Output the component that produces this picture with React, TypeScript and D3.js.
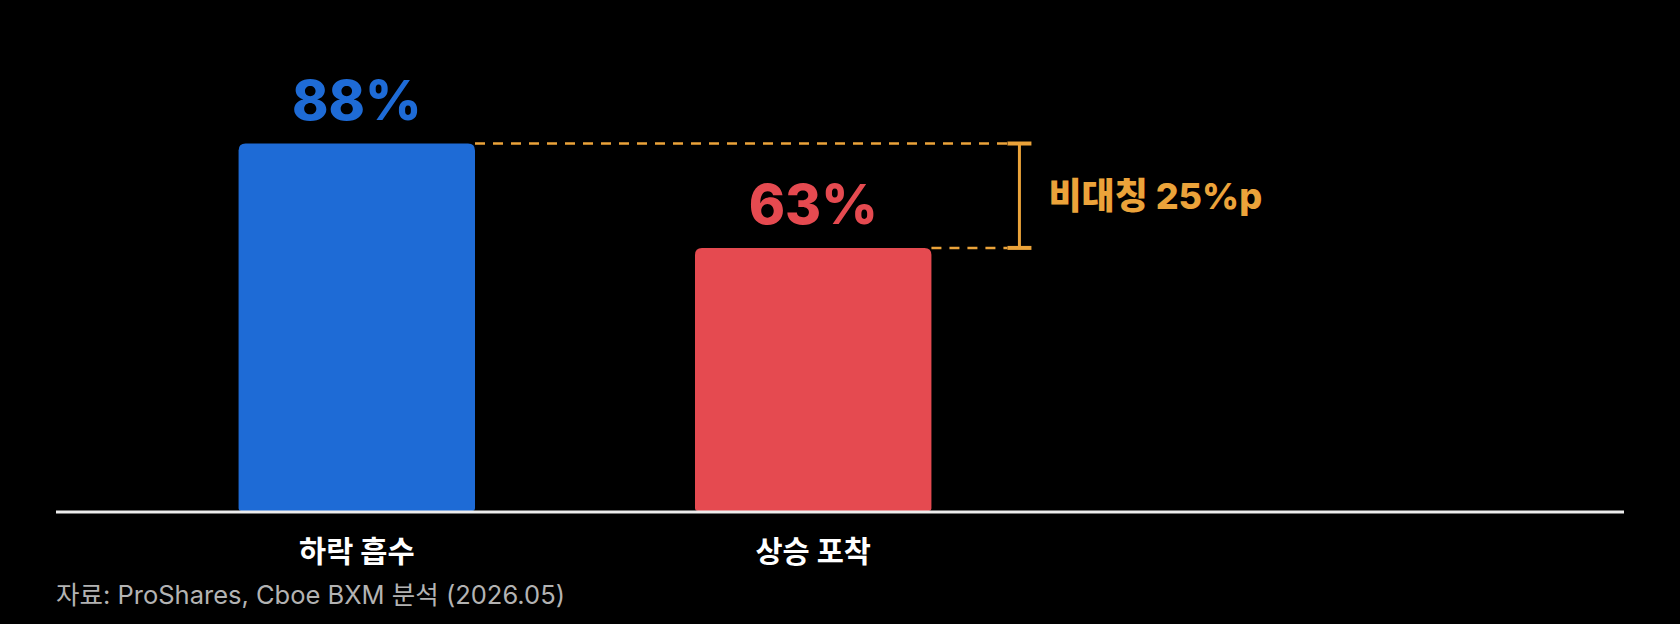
import { FC, useEffect, useRef } from 'react';
import * as d3 from 'd3';

const categories = ['하락 흡수', '상승 포착'];
const values = [88, 63];
const valueLabels = ['88%', '63%'];
const barColors = ['#1e6bd6', '#e54a50'];
const gapLabel = '비대칭 25%p';
const sourceNote = '자료: ProShares, Cboe BXM 분석 (2026.05)';

const WIDTH = 1680;
const HEIGHT = 624;
const FONT = "Inter, 'Noto Sans CJK KR', sans-serif";
const ACCENT = '#eba33a';

// rect with bigger radius on top corners than bottom ones
const barPath = (x: number, y: number, w: number, h: number, rt: number, rb: number) => {
  const p = d3.path();
  p.moveTo(x + rt, y);
  p.lineTo(x + w - rt, y);
  p.quadraticCurveTo(x + w, y, x + w, y + rt);
  p.lineTo(x + w, y + h - rb);
  p.quadraticCurveTo(x + w, y + h, x + w - rb, y + h);
  p.lineTo(x + rb, y + h);
  p.quadraticCurveTo(x, y + h, x, y + h - rb);
  p.lineTo(x, y + rt);
  p.quadraticCurveTo(x, y, x + rt, y);
  p.closePath();
  return p.toString();
};

const AsymmetryChart: FC = () => {
  const svgRef = useRef<SVGSVGElement>(null);

  useEffect(() => {
    if (!svgRef.current) return;
    document.body.style.margin = '0';
    document.body.style.background = '#000';

    const svg = d3.select(svgRef.current);
    svg.selectAll('*').remove();

    const baseline = 511;
    const x = d3.scaleBand<string>()
      .domain(categories)
      .range([56, 1114])
      .paddingInner(0.482)
      .paddingOuter(0.4);
    const y = d3.scaleLinear().domain([0, 100]).range([baseline, baseline - 417.6]);

    const bw = x.bandwidth();

    // bars
    categories.forEach((c, i) => {
      const x0 = x(c)!;
      const y0 = y(values[i]);
      svg.append('path')
        .attr('d', barPath(x0, y0, bw, baseline - y0, 7, 3))
        .attr('fill', barColors[i]);

      svg.append('text')
        .attr('x', x0 + bw / 2)
        .attr('y', y0 - 24)
        .attr('text-anchor', 'middle')
        .attr('fill', barColors[i])
        .attr('font-family', FONT)
        .attr('font-weight', 800)
        .attr('font-size', 55)
        .text(valueLabels[i]);

      svg.append('text')
        .attr('x', x0 + bw / 2)
        .attr('y', 562)
        .attr('text-anchor', 'middle')
        .attr('fill', '#ffffff')
        .attr('font-family', FONT)
        .attr('font-weight', 700)
        .attr('font-size', 29.5)
        .text(c);
    });

    // baseline
    svg.append('line')
      .attr('x1', 56)
      .attr('x2', 1624)
      .attr('y1', baseline + 1)
      .attr('y2', baseline + 1)
      .attr('stroke', '#ededed')
      .attr('stroke-width', 3);

    // gap bracket
    const bracketX = x(categories[1])! + bw + 88;
    const capHalf = 12;
    const yHigh = y(values[0]);
    const yLow = y(values[1]);

    svg.append('line')
      .attr('x1', x(categories[0])! + bw)
      .attr('x2', bracketX - capHalf)
      .attr('y1', yHigh)
      .attr('y2', yHigh)
      .attr('stroke', ACCENT)
      .attr('stroke-width', 2.5)
      .attr('stroke-dasharray', '10 8');

    svg.append('line')
      .attr('x1', x(categories[1])! + bw)
      .attr('x2', bracketX - capHalf)
      .attr('y1', yLow)
      .attr('y2', yLow)
      .attr('stroke', ACCENT)
      .attr('stroke-width', 2.5)
      .attr('stroke-dasharray', '10 8');

    svg.append('line')
      .attr('x1', bracketX)
      .attr('x2', bracketX)
      .attr('y1', yHigh)
      .attr('y2', yLow)
      .attr('stroke', ACCENT)
      .attr('stroke-width', 3);

    [yHigh, yLow].forEach(yy => {
      svg.append('line')
        .attr('x1', bracketX - capHalf)
        .attr('x2', bracketX + capHalf)
        .attr('y1', yy)
        .attr('y2', yy)
        .attr('stroke', ACCENT)
        .attr('stroke-width', 4);
    });

    svg.append('text')
      .attr('x', bracketX + 29)
      .attr('y', (yHigh + yLow) / 2)
      .attr('dominant-baseline', 'central')
      .attr('fill', ACCENT)
      .attr('font-family', FONT)
      .attr('font-weight', 800)
      .attr('font-size', 36)
      .text(gapLabel);

    // source note
    svg.append('text')
      .attr('x', 56)
      .attr('y', 604)
      .attr('fill', '#b3b3b3')
      .attr('font-family', FONT)
      .attr('font-weight', 400)
      .attr('font-size', 25.5)
      .text(sourceNote);
  }, []);

  return <svg ref={svgRef} width={WIDTH} height={HEIGHT} style={{ display: 'block', background: '#000' }} />;
};

export default function App() {
  return <AsymmetryChart />;
}
